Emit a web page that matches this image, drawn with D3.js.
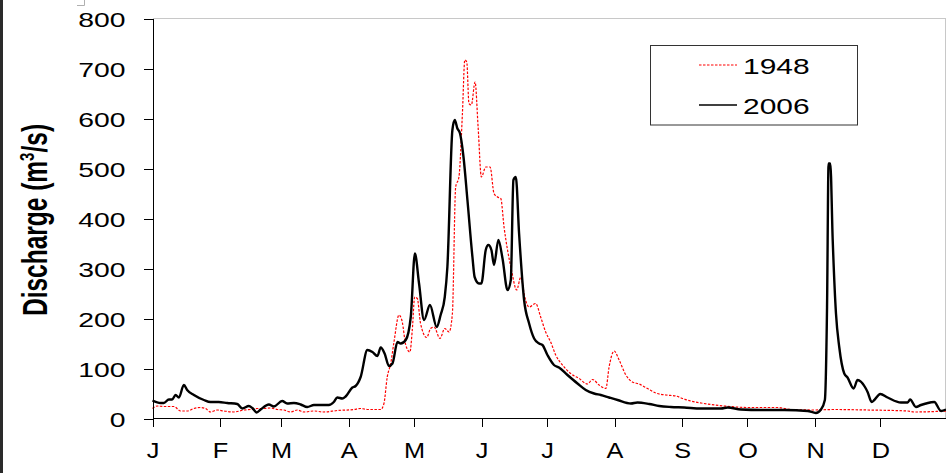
<!DOCTYPE html>
<html>
<head>
<meta charset="utf-8">
<title>Discharge 1948 / 2006</title>
<script src="https://d3js.org/d3.v7.min.js"></script>
<style>
body { margin: 0; background: #fff; }
svg { display: block; font-family: "Liberation Sans", Arial, sans-serif; }
.axis path, .axis line { stroke: #000; shape-rendering: crispEdges; }
.axis text { fill: #000; }
</style>
</head>
<body>
<script>
// month ticks (day of year where each month starts)
const months = ["J", "F", "M", "A", "M", "J", "J", "A", "S", "O", "N", "D"]
const monthStart = [0, 31, 59, 90, 120, 151, 181, 212, 243, 273, 304, 334]
const yTicks = [0, 100, 200, 300, 400, 500, 600, 700, 800]
const seriesNames = ["1948", "2006"]

// 1948 (day of year, m3/s)
const day1948 = [0, 2.2, 5.2, 9.8, 12.9, 15.9, 19, 22, 24.3, 26.6, 29.7, 32.7, 37.3, 41.9, 45, 48.1, 51.1, 54.2,
  57.3, 60.3, 63.4, 66.4, 69.5, 74.1, 78.6, 84.8, 92.4, 95.5, 98.6, 104.7, 106.2, 107.7, 109.3, 110.8, 113.1,
  114.6, 116.2, 118.1, 119.2, 120.3, 121.5, 123, 125.8, 127.6, 129.2, 131.9, 134.1, 136.1, 137.6, 139.1, 140.6,
  142.2, 143.3, 144.2, 145.2, 146.3, 148, 149.4, 150.9, 152.9, 154.9, 156.7, 158.3, 159.8, 161.3, 162.9, 164.7,
  167.1, 169, 170.8, 172.8, 175.8, 178.1, 180.4, 182.7, 185, 188.1, 191.9, 195.7, 199.6, 201.9, 204.9, 208,
  209.5, 211.8, 214.1, 217.2, 220.2, 223.3, 227.1, 230.9, 235.5, 240.1, 243.2, 247, 251.7, 262.4, 273, 286.8,
  292.9, 303.6, 312.8, 328.1, 346.5, 349.5, 364.6]
const q1948 = [20, 25, 24, 24, 15, 15, 20, 22, 20, 13, 17, 15, 13, 17, 18, 20, 20, 21,
  18, 17, 13, 17, 13, 15, 13, 16, 18, 20, 18, 18, 30, 83, 110, 153, 207,
  193, 147, 133, 177, 243, 240, 190, 162, 180, 183, 160, 180, 173, 210, 463, 483,
  610, 717, 713, 630, 627, 673, 583, 483, 503, 503, 450, 443, 440, 383, 337, 297,
  257, 283, 243, 223, 230, 203, 173, 153, 127, 107, 90, 80, 69, 78, 67, 60,
  103, 135, 117, 87, 73, 69, 60, 51, 47, 45, 40, 35, 31, 25, 22, 22,
  18, 17, 18, 17, 15, 13, 15]

// 2006
const day2006 = [0, 3.7, 5.2, 7.5, 9, 10.6, 12.1, 14.4, 15.9, 19, 23.6, 26.6, 30.4, 34.3, 38.9, 41.2, 44.2,
  45.8, 47.8, 49.6, 53.4, 55.7, 59.5, 61.8, 64.9, 68, 71, 74.1, 80.9, 83.2, 84.8, 87.1, 88.6, 91.7, 93.2, 95.5,
  98.6, 100.9, 103.2, 104.7, 106.5, 108.5, 110.1, 112.4, 113.9, 116.2, 118.5, 120.4, 122.3, 124.6, 127.3, 130.4,
  132.2, 134.1, 135.3, 137.6, 138.7, 139.9, 141.1, 142.7, 144.5, 146.8, 147.8, 149.8, 150.9, 152.9, 154.1,
  155.5, 156.7, 158.7, 160.6, 162.9, 164.4, 165.6, 166.7, 168.2, 170.5, 172.8, 175.1, 177.4, 178.9, 181.2,
  184.2, 186.5, 190.4, 195, 198.8, 202.6, 205.7, 209.5, 213.4, 219.5, 222.5, 227.9, 232.5, 237.8, 243.9, 251.7,
  260.9, 263.9, 270, 279.2, 289.9, 300.6, 304.4, 306.7, 308.5, 309.5, 310.2, 311, 312.1, 313.6, 315.1, 317.4,
  318.9, 321.7, 323.5, 326.9, 328.1, 330, 331.2, 333.9, 337.3, 343.4, 346.5, 347.6, 350.3, 352.6, 354.9, 358.7,
  361.8, 364.1]
const q2006 = [36, 31, 31, 38, 38, 47, 42, 67, 57, 47, 37, 33, 33, 31, 29, 20, 25,
  21, 12, 18, 28, 24, 35, 30, 31, 28, 23, 27, 27, 33, 42, 40, 44, 62, 65, 83,
  137, 133, 125, 142, 130, 105, 110, 153, 150, 157, 203, 330, 270, 197, 227, 183,
  207, 243, 303, 577, 597, 580, 570, 523, 437, 323, 283, 270, 270, 337, 347,
  337, 307, 357, 320, 257, 277, 477, 483, 370, 237, 190, 160, 150, 147, 127,
  107, 102, 87, 70, 57, 50, 47, 42, 37, 30, 32, 29, 25, 23, 22, 20,
  20, 22, 18, 17, 17, 15, 11, 18, 37, 223, 510, 510, 357, 210, 143, 90,
  82, 60, 77, 63, 53, 33, 37, 49, 42, 32, 32, 38, 23, 27, 30, 33,
  15, 18]

const width = 946, height = 473

const svg = d3.select("body").append("svg")
    .attr("width", width)
    .attr("height", height)

// frame bits of the original screenshot
svg.append("rect").attr("x", 0).attr("y", 0).attr("width", 3).attr("height", height).attr("fill", "#2a2a2a")
svg.append("path").attr("d", "M77,5.5H84.5V0").attr("fill", "none").attr("stroke", "#b0b0b0")

const x = d3.scaleLinear().domain([0, 365]).range([152.5, 948])
const y = d3.scaleLinear().domain([0, 800]).range([418.5, 18.5])

// plot area border (top / right)
svg.append("path")
    .attr("d", "M" + x(0) + "," + y(800) + "H945.5V" + y(0))
    .attr("fill", "none").attr("stroke", "#c8c8c8").attr("shape-rendering", "crispEdges")

const line = d3.line()
    .x(d => x(d[0]))
    .y(d => y(d[1]))
    .curve(d3.curveMonotoneX)

svg.append("path")
    .datum(day1948.map((d, i) => [d, q1948[i]]))
    .attr("d", line)
    .attr("fill", "none")
    .attr("stroke", "#ff0000")
    .attr("stroke-width", 1.2)
    .attr("stroke-dasharray", "2.5,1.5")

svg.append("path")
    .datum(day2006.map((d, i) => [d, q2006[i]]))
    .attr("d", line)
    .attr("fill", "none")
    .attr("stroke", "#000")
    .attr("stroke-width", 2.4)
    .attr("stroke-linejoin", "round")

// axes
const yAxis = d3.axisLeft(y).tickValues(yTicks).tickSize(9).tickSizeOuter(0)
const gy = svg.append("g").attr("class", "axis")
    .attr("transform", "translate(" + x(0) + ",0)")
    .call(yAxis)
gy.selectAll("text")
    .attr("font-size", 21)
    .attr("x", -27 / 1.35)
    .attr("dy", "0.36em")
    .attr("transform", "scale(1.35,1)")

const xAxis = d3.axisBottom(x).tickValues(monthStart).tickFormat((d, i) => months[i]).tickSize(8).tickSizeOuter(0)
const gx = svg.append("g").attr("class", "axis")
    .attr("transform", "translate(0," + y(0) + ")")
    .call(xAxis)
gx.select(".domain").attr("d", "M" + x(0) + ",0H948")
gx.selectAll("text")
    .attr("font-size", 22)
    .attr("y", 40)
    .attr("dy", 0)
    .attr("transform", "scale(1.15,1)")
gx.selectAll(".tick").each(function() {
  // keep label centred on the tick after scaling
  const t = d3.select(this).select("text")
  t.attr("x", 0)
})

// y label
svg.append("text")
    .attr("transform", "translate(46.5,220) rotate(-90) scale(1,1.4)")
    .attr("text-anchor", "middle")
    .attr("font-size", 24.5)
    .attr("font-weight", "bold")
    .text("Discharge (m")
    .append("tspan").attr("font-size", 15).attr("dy", -9).text("3")
    .select(function() { return this.parentNode })
    .append("tspan").attr("dy", 9).text("/s)")

// legend
const lg = svg.append("g")
lg.append("rect")
    .attr("x", 650.5).attr("y", 45.5).attr("width", 207).attr("height", 79.5)
    .attr("fill", "#fff").attr("stroke", "#333").attr("stroke-width", 1)
const legendStyle = [
  {stroke: "#ff0000", width: 1.2, dash: "2.5,1.5"},
  {stroke: "#000", width: 1.6, dash: null}
]
seriesNames.forEach((name, i) => {
  const ly = 65 + i * 40
  lg.append("line")
      .attr("x1", 699).attr("x2", 737).attr("y1", ly).attr("y2", ly)
      .attr("stroke", legendStyle[i].stroke)
      .attr("stroke-width", legendStyle[i].width)
      .attr("stroke-dasharray", legendStyle[i].dash)
  lg.append("text")
      .attr("transform", "translate(743," + (ly + 9) + ") scale(1.36,1)")
      .attr("font-size", 22)
      .text(name)
})
</script>
</body>
</html>
